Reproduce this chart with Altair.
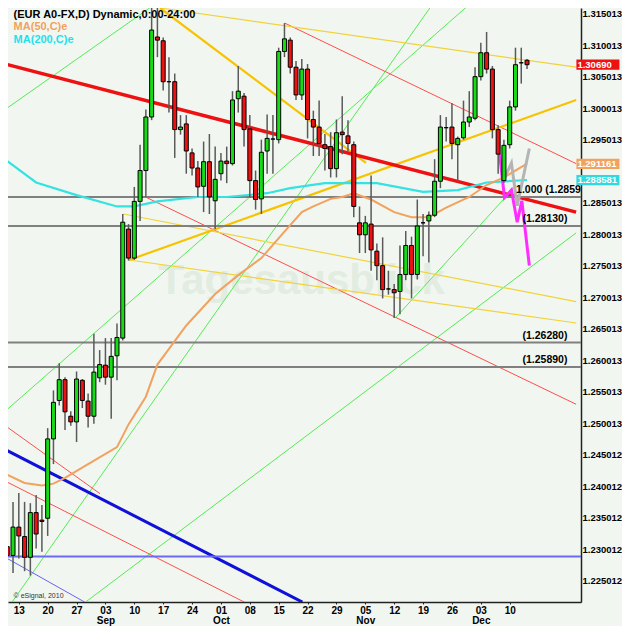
import altair as alt
import pandas as pd

# ---------------- data (trading-day index, 0 = Mon 13 Aug) ----------------
idx = list(range(-2, 89))
opens = [1.2304, 1.2290, 1.2335, 1.2320, 1.2287, 1.2358, 1.2346, 1.2349, 1.2475, 1.2536,
         1.2569, 1.2511, 1.2502, 1.2568, 1.2535, 1.2511, 1.2572, 1.2592, 1.2573, 1.2607,
         1.2635, 1.2808, 1.2762, 1.2852, 1.2901, 1.2986, 1.3113, 1.3107, 1.3042, 1.3042,
         1.2966, 1.2975, 1.2929, 1.2905, 1.2876, 1.2915, 1.2853, 1.2896, 1.2916, 1.2912,
         1.3015, 1.3019, 1.2967, 1.2885, 1.2856, 1.2932, 1.2951, 1.2950, 1.3090, 1.3108,
         1.3065, 1.3021, 1.3062, 1.2982, 1.2970, 1.2942, 1.2939, 1.2904, 1.2962, 1.2956,
         1.2942, 1.2818, 1.2799, 1.2816, 1.2773, 1.2750, 1.2713, 1.2712, 1.2709, 1.2736,
         1.2782, 1.2736, 1.2818, 1.2821, 1.2830, 1.2884, 1.2969, 1.2970, 1.2942, 1.2953,
         1.2978, 1.2984, 1.3050, 1.3088, 1.3062, 1.2966, 1.2885, 1.2942, 1.3002, 1.3072,
         1.3076]
highs = [1.2320, 1.2375, 1.2389, 1.2375, 1.2373, 1.2386, 1.2370, 1.2492, 1.2552, 1.2595,
         1.2573, 1.2519, 1.2582, 1.2570, 1.2547, 1.2642, 1.2616, 1.2635, 1.2635, 1.2658,
         1.2832, 1.2816, 1.2875, 1.2942, 1.2998, 1.3159, 1.3170, 1.3112, 1.3081, 1.3055,
         1.2989, 1.2989, 1.2936, 1.2916, 1.2947, 1.2959, 1.2939, 1.2929, 1.2939, 1.3027,
         1.3067, 1.3024, 1.2989, 1.2901, 1.2950, 1.2990, 1.2989, 1.3096, 1.3135, 1.3112,
         1.3075, 1.3078, 1.3070, 1.2996, 1.3012, 1.2959, 1.2962, 1.2982, 1.3019, 1.2981,
         1.2947, 1.2844, 1.2829, 1.2893, 1.2785, 1.2795, 1.2742, 1.2721, 1.2782, 1.2805,
         1.2796, 1.2855, 1.2832, 1.2836, 1.2919, 1.2989, 1.2986, 1.3008, 1.2955, 1.3012,
         1.3027, 1.3065, 1.3104, 1.3121, 1.3067, 1.2973, 1.2950, 1.3012, 1.3096, 1.3096,
         1.3078]
lows = [1.2259, 1.2262, 1.2285, 1.2265, 1.2258, 1.2301, 1.2296, 1.2321, 1.2435, 1.2528,
        1.2489, 1.2496, 1.2470, 1.2524, 1.2493, 1.2499, 1.2565, 1.2561, 1.2507, 1.2568,
        1.2631, 1.2758, 1.2759, 1.2821, 1.2859, 1.2981, 1.3081, 1.3028, 1.2993, 1.2921,
        1.2958, 1.2896, 1.2893, 1.2859, 1.2835, 1.2832, 1.2808, 1.2885, 1.2881, 1.2909,
        1.2993, 1.2939, 1.2858, 1.2839, 1.2832, 1.2896, 1.2896, 1.2944, 1.3081, 1.3055,
        1.3013, 1.3013, 1.2952, 1.2924, 1.2924, 1.2901, 1.2890, 1.2890, 1.2927, 1.2932,
        1.2827, 1.2770, 1.2770, 1.2742, 1.2727, 1.2698, 1.2704, 1.2667, 1.2673, 1.2727,
        1.2698, 1.2728, 1.2765, 1.2755, 1.2827, 1.2873, 1.2947, 1.2919, 1.2882, 1.2950,
        1.2970, 1.2981, 1.3044, 1.3055, 1.2952, 1.2896, 1.2882, 1.2936, 1.2996, 1.3039,
        1.3062]
closes = [1.2290, 1.2335, 1.2321, 1.2287, 1.2358, 1.2324, 1.2344, 1.2475, 1.2533, 1.2569,
          1.2518, 1.2502, 1.2570, 1.2536, 1.2511, 1.2581, 1.2593, 1.2573, 1.2606, 1.2636,
          1.2819, 1.2762, 1.2852, 1.2901, 1.2986, 1.3124, 1.3108, 1.3042, 1.3042, 1.2966,
          1.2970, 1.2932, 1.2905, 1.2875, 1.2915, 1.2859, 1.2887, 1.2916, 1.2912, 1.3013,
          1.3027, 1.2966, 1.2885, 1.2855, 1.2930, 1.2952, 1.2951, 1.3090, 1.3110, 1.3065,
          1.3021, 1.3062, 1.2982, 1.2970, 1.2944, 1.2936, 1.2904, 1.2961, 1.2958, 1.2944,
          1.2844, 1.2799, 1.2818, 1.2775, 1.2750, 1.2712, 1.2713, 1.2707, 1.2736, 1.2782,
          1.2736, 1.2813, 1.2818, 1.2830, 1.2884, 1.2970, 1.2969, 1.2944, 1.2952, 1.2978,
          1.2986, 1.3050, 1.3088, 1.3062, 1.2966, 1.2927, 1.2941, 1.3002, 1.3069, 1.3072,
          1.3069]

# moving averages (index, price)
ma50_i = [-2, 1, 4, 6, 8, 12, 17, 19, 22, 24, 29, 34, 38, 42, 46, 49, 51, 54, 56, 58, 61, 65, 68, 71, 74, 78, 81, 84, 88]
ma50_p = [1.2418, 1.2405, 1.2401, 1.2404, 1.2413, 1.2435, 1.2462, 1.2498, 1.2542, 1.2593,
          1.2655, 1.2705, 1.2735, 1.2762, 1.2804, 1.2835, 1.2844, 1.2856, 1.2859, 1.2865,
          1.2855, 1.2835, 1.2827, 1.2827, 1.2842, 1.2859, 1.2878, 1.2890, 1.2912]
ma200_i = [-2, 3, 10, 17, 20, 24, 31, 36, 43, 47, 53, 56, 62, 70, 76, 81, 88]
ma200_p = [1.2916, 1.2882, 1.2862, 1.2844, 1.2844, 1.2852, 1.2859, 1.2859, 1.2865, 1.2873,
           1.2881, 1.2881, 1.2881, 1.2867, 1.2870, 1.2882, 1.2886]

# projections
magenta_i = [83.25, 84.1, 85.3, 86.3, 87.1, 88.4]
magenta_p = [1.2927, 1.2858, 1.2870, 1.2819, 1.2853, 1.2750]
grey_i = [83.9, 85.3, 86.3, 88.4]
grey_p = [1.2885, 1.2913, 1.2845, 1.2936]

# trend lines: name, i0, p0, i1, p1
thick_red = [("r0", -2.35, 1.3070, 96.5, 1.2835)]
thin_red = [("r1", 46.06, 1.3135, 96.5, 1.2912), ("r2", 21.94, 1.2859, 96.5, 1.2530),
            ("r3", -2.35, 1.2496, 14.07, 1.2388), ("r4", -2.35, 1.2408, 39.03, 1.2216)]
thin_yellow = [("y0", 24.46, 1.3159, 96.5, 1.3065), ("y1", 18.1, 1.2832, 96.5, 1.2693),
               ("y2", 19.1, 1.2759, 96.5, 1.2659)]
thick_yellow = [("y3", 24.46, 1.3159, 60.1, 1.2913), ("y4", 19.1, 1.2759, 96.5, 1.3013)]
thick_blue = [("b0", -2.35, 1.2458, 49.1, 1.2216)]
thin_blue = [("b1", -2.35, 1.2287, 11.4, 1.2216)]
green = [("g0", -2.35, 1.2998, 23.1, 1.3162), ("g1", -2.35, 1.2519, 77.7, 1.3162),
         ("g2", -1.17, 1.2216, 71.4, 1.3162), ("g3", 11.56, 1.2216, 96.5, 1.2802),
         ("g4", 65.2, 1.2667, 86.1, 1.2877)]

grey_levels = [1.2859, 1.2813, 1.2628, 1.2589]
grey_texts = ["1.000 (1.2859)", "(1.28130)", "(1.26280)", "(1.25890)"]
blue_level = 1.22885

tick_days = [0, 5, 10, 15, 20, 25, 30, 35, 40, 45, 50, 55, 60, 65, 70, 75, 80, 85]
day_labels = ["13", "20", "27", "03", "10", "17", "24", "01", "08", "15", "22", "29",
              "05", "12", "19", "26", "03", "10"]
month_labels = ["", "", "", "Sep", "", "", "", "Oct", "", "", "", "", "Nov", "", "", "", "Dec", ""]
price_ticks = [1.225012, 1.230012, 1.235012, 1.240012, 1.245012, 1.250013, 1.255013,
               1.260013, 1.265013, 1.270013, 1.275013, 1.280013, 1.285013,
               1.295013, 1.300013, 1.305013, 1.310013, 1.315013]

value_boxes = [("1.30690", 1.3069, "#ee1111"), ("1.291161", 1.291161, "#f2a15e"),
               ("1.288581", 1.288581, "#2fd9de")]

# ---------------- tables / styling ----------------
FONT = "Liberation Sans"
BG = "#f1f7f0"

candles = pd.DataFrame({"i": idx, "open": opens, "high": highs, "low": lows, "close": closes})
candles["dir"] = ["up" if c > o else ("down" if c < o else "flat") for o, c in zip(opens, closes)]


def seg_frame(segs):
    rows = []
    for name, i0, p0, i1, p1 in segs:
        rows.append({"line": name, "i": i0, "p": p0})
        rows.append({"line": name, "i": i1, "p": p1})
    return pd.DataFrame(rows)


X = alt.Scale(domain=[-1.005, 96.48], nice=False, zero=False)
Y = alt.Scale(domain=[1.22161, 1.31590], nice=False, zero=False)

lab_arr = ",".join("['%s','%s']" % (d, m) for d, m in zip(day_labels, month_labels))
x_axis = alt.Axis(values=tick_days, labelExpr="[" + lab_arr + "][round(datum.value/5)]",
                  orient="bottom", title=None, grid=False, domainColor="#222",
                  domainWidth=1.5, tickColor="#222", tickSize=2, labelPadding=1,
                  labelFont=FONT, labelFontWeight="bold", labelFontSize=10,
                  labelColor="black", labelLineHeight=10.5, labelOverlap=False,
                  labelBaseline="top", labelFlush=False)
y_axis = alt.Axis(values=price_ticks, format=".6f", orient="right", title=None, grid=False,
                  ticks=False, domainColor="#222", domainWidth=1.5, labelPadding=1,
                  labelFont=FONT, labelFontWeight="bold", labelFontSize=9.5,
                  labelColor="black", labelOverlap=False, labelFlush=False)


def xq(field="i"):
    return alt.X(f"{field}:Q", scale=X, axis=x_axis)


def yq(field="p"):
    return alt.Y(f"{field}:Q", scale=Y, axis=y_axis)


def lines(segs, color, width):
    return alt.Chart(seg_frame(segs)).mark_line(clip=True, color=color, strokeWidth=width).encode(
        x=xq(), y=yq(), detail="line:N")


def path(xs, ps, color, width):
    return alt.Chart(pd.DataFrame({"i": xs, "p": ps})).mark_line(
        clip=True, color=color, strokeWidth=width).encode(x=xq(), y=yq())


watermark = alt.Chart(pd.DataFrame({"i": [49.0], "p": [1.2725], "t": ["Tagesausblick"]})).mark_text(
    font=FONT, fontSize=42, fontWeight="bold", color="#e2ece1").encode(x=xq(), y=yq(), text="t:N")

grey_df = pd.DataFrame({"p": grey_levels, "t": grey_texts, "i": [86.1, 95.0, 95.0, 95.0]})
grey_rules = alt.Chart(grey_df).mark_rule(color="#808080", strokeWidth=2).encode(y=yq())
grey_lab_l = alt.Chart(grey_df.iloc[:1]).mark_text(
    align="left", dy=-7, font=FONT, fontWeight="bold", fontSize=10.5, color="black", clip=True
).encode(x=xq(), y=yq(), text="t:N")
grey_lab_r = alt.Chart(grey_df.iloc[1:]).mark_text(
    align="right", dy=-7, font=FONT, fontWeight="bold", fontSize=10.5, color="black"
).encode(x=xq(), y=yq(), text="t:N")

blue_rule = alt.Chart(pd.DataFrame({"p": [blue_level]})).mark_rule(
    color="#6a6af2", strokeWidth=2).encode(y=yq())

wicks = alt.Chart(candles).mark_rule(color="#5a5a5a", strokeWidth=1.5, clip=True).encode(
    x=xq(), y=yq("low"), y2="high:Q")
bodies = alt.Chart(candles).mark_bar(size=4, stroke="black", strokeWidth=1, clip=True).encode(
    x=xq(), y=yq("open"), y2="close:Q",
    color=alt.Color("dir:N", legend=None,
                    scale=alt.Scale(domain=["up", "down", "flat"],
                                    range=["#16dc16", "#ee1111", "#000000"])))

box_df = pd.DataFrame({"t": [b[0] for b in value_boxes], "p": [b[1] for b in value_boxes],
                       "c": [b[2] for b in value_boxes]})
box_df["lo"] = box_df["p"] - 0.00082
box_df["hi"] = box_df["p"] + 0.00082
box_df["x0"] = 96.55
box_df["x1"] = 104.0
boxes = alt.Chart(box_df).mark_rect().encode(
    x=xq("x0"), x2="x1:Q", y=yq("lo"), y2="hi:Q", color=alt.Color("c:N", scale=None))
box_text = alt.Chart(box_df).mark_text(
    align="left", dx=1, font=FONT, fontWeight="bold", fontSize=9.5, color="white").encode(
    x=xq("x0"), y=yq(), text="t:N")

hdr_df = pd.DataFrame({"i": [-0.9, -0.9, -0.9], "p": [1.31590, 1.31395, 1.31190],
                       "t": ["(EUR A0-FX,D) Dynamic,0:00-24:00", "MA(50,C)e", "MA(200,C)e"],
                       "c": ["black", "#f2a15e", "#1fe0ee"]})
header = alt.Chart(hdr_df).mark_text(
    align="left", baseline="top", dy=1, font=FONT, fontWeight="bold", fontSize=11).encode(
    x=xq(), y=yq(), text="t:N", color=alt.Color("c:N", scale=None))

copy = alt.Chart(pd.DataFrame({"i": [-0.9], "p": [1.2226], "t": ["\u00a9 eSignal, 2010"]})).mark_text(
    align="left", font=FONT, fontSize=7, color="#333").encode(x=xq(), y=yq(), text="t:N")

chart = alt.layer(
    watermark,
    lines(green, "#55ea55", 1),
    lines(thin_red, "#ff4d4d", 1),
    lines(thin_yellow, "#f2d23a", 1.2),
    lines(thick_yellow, "#f7c300", 2.2),
    lines(thin_blue, "#6464f0", 1),
    lines(thick_blue, "#1010d8", 3),
    lines(thick_red, "#ee1111", 3.5),
    blue_rule,
    grey_rules,
    path(ma200_i, ma200_p, "#35e2e2", 2.2),
    path(ma50_i, ma50_p, "#f2a15e", 2),
    path(grey_i, grey_p, "#b4b4b4", 3),
    path(magenta_i, magenta_p, "#ff2cff", 3),
    grey_lab_l,
    grey_lab_r,
    wicks,
    bodies,
    boxes,
    box_text,
    header,
    copy,
).properties(
    width=573, height=594,
    autosize=alt.AutoSizeParams(type="none"),
    padding={"left": 0, "top": 0, "right": 41, "bottom": 24},
    background=BG,
).configure_view(stroke=None)

chart.save("out.html", embed_options={"renderer": "svg", "actions": False})
